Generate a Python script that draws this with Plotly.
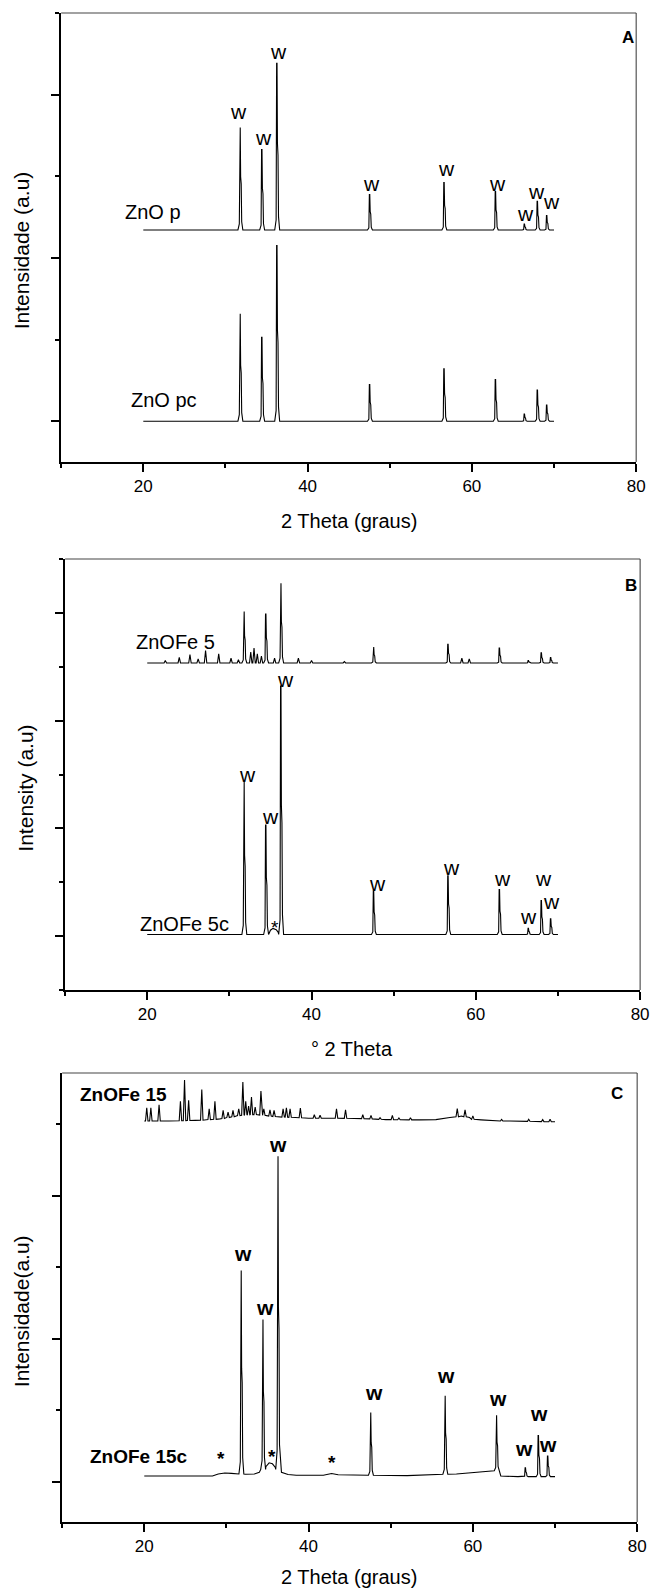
import plotly.graph_objects as go

FIG_W, FIG_H = 657, 1590
FONT = "Liberation Sans, Arial, Helvetica, sans-serif"

# ---------------- data ----------------
# 2-theta positions of the wurtzite (w) reflections
w_pos = [31.77, 34.42, 36.25, 47.54, 56.60, 62.86, 66.38, 67.96, 69.10]

# Panel A (intensity above each pattern's own baseline)
zno_p_top = [628, 493, 1021, 217, 291, 236, 36, 176, 89]
zno_pc_top = [658, 514, 1075, 224, 321, 255, 43, 191, 99]
zno_p_offset = 1171
zno_pc_offset = 0

# Panel B
znofe5_top = [478, 453, 739, 148, 173, 138, 22, 94, 50]
znofe5_minor_pos = [22.2, 23.9, 25.2, 26.2, 27.1, 28.7, 30.2, 31.1, 32.6, 33.0,
                    33.4, 33.9, 35.5, 38.4, 40.0, 44.0, 58.3, 59.2]
znofe5_minor_top = [22, 53, 79, 38, 116, 85, 44, 31, 101, 138,
                    85, 63, 44, 44, 22, 13, 44, 38]
znofe5_offset = 2535

znofe5c_top = [1415, 1016, 2306, 403, 544, 418, 57, 315, 145]
znofe5c_bg_x = [20.0, 34.8, 35.0, 35.3, 35.7, 35.95, 70.0]
znofe5c_bg_y = [0, 5, 40, 57, 45, 20, 0]
znofe5c_offset = 15

# Panel C
znofe15c_top = [1437, 1094, 2235, 443, 561, 424, 57, 282, 140]
znofe15c_base = [14, 45, 45, 5, 12, 36, -5, -5, -5]
znofe15c_bg_x = [20.0, 28.3, 29.0, 29.8, 30.6, 31.4, 32.3, 33.4, 34.0, 34.8, 35.2,
                 35.6, 35.95, 36.7, 37.5, 38.5, 41.8, 42.8, 43.6, 46.0, 52.0,
                 55.0, 58.0, 60.0, 61.8, 63.4, 65.5, 70.0]
znofe15c_bg_y = [0, 0, 14, 21, 18, 14, 12, 14, 25, 65, 92,
                 85, 60, 25, 10, 5, 5, 17, 8, 5, 2,
                 10, 14, 22, 30, 0, -5, -5]
znofe15c_offset = 42

znofe15_pos = [20.3, 20.8, 21.8, 24.4, 24.9, 25.4, 27.0, 27.9, 28.6, 29.6, 30.2,
               30.8, 31.5, 32.0, 32.35, 32.7, 33.05, 33.5, 34.2, 34.55, 35.3, 35.8,
               36.9, 37.3, 37.75, 39.0, 40.7, 41.4, 43.4, 44.5, 46.6, 47.6, 48.7,
               50.2, 51.0, 52.4, 58.1, 59.05, 60.0, 63.5, 66.8, 68.5, 69.4]
znofe15_top = [93, 93, 114, 138, 287, 145, 221, 86, 138, 75, 63,
               75, 86, 273, 138, 105, 168, 98, 210, 86, 79, 75,
               86, 93, 86, 91, 44, 40, 86, 79, 44, 40, 23,
               40, 21, 23, 88, 78, 36, 12, 12, 10, 12]
znofe15_base = [0, 0, 0, 2, 3, 4, 6, 10, 12, 18, 25,
                30, 38, 40, 42, 44, 45, 45, 42, 40, 35, 32,
                28, 27, 26, 23, 20, 20, 20, 19, 17, 15, 12,
                10, 9, 8, 30, 30, 12, 0, -2, -4, -5]
znofe15_bg_x = [20.0, 23.0, 26.2, 29.2, 31.2, 33.8, 34.9, 36.4, 38.4, 40.0, 42.2,
                45.5, 49.4, 53.5, 55.5, 57.2, 58.6, 59.6, 61.0, 64.5, 70.0]
znofe15_bg_y = [0, 0, 5, 15, 35, 45, 38, 30, 25, 20, 20,
                18, 10, 8, 10, 25, 35, 25, 8, 0, -5]
znofe15_offset = 2524

# label positions (2-theta of each "w" and pixel gap above the peak)
w_lab_A = [31.6, 34.6, 36.4, 47.8, 56.9, 63.1, 66.5, 67.85, 69.7]
w_gap_A = [14, 10, 10, 9, 12, 6, 9, 8, 12]
w_lab_B = [32.25, 34.98, 36.8, 48.0, 57.07, 63.27, 66.4, 68.3, 69.27]
w_gap_B = [6, 7, 5, 6, 6, 9, 10, 20, 15]
w_lab_C = [32.04, 34.7, 36.3, 47.95, 56.7, 63.06, 66.18, 68.05, 69.1]
w_gap_C = [15, 10, 10, 18, 18, 15, 17, 20, 9]

# ---------------- profile builders ----------------
# crystalline reflection: sharp Ka1 line with a Ka2 shoulder on the high-angle side
SHARP_DX = [-0.25, -0.08, -0.02, 0.03, 0.08, 0.15, 0.21, 0.35]
SHARP_FR = [0.0, 0.06, 1.0, 1.0, 0.52, 0.45, 0.08, 0.0]
TRI_HW = 0.15


def pattern(offset, sharp_pos=(), sharp_top=(), sharp_base=None,
            tri_pos=(), tri_top=(), tri_base=None, bg_x=(20.0, 70.0), bg_y=(0, 0)):
    pts = list(zip(bg_x, bg_y))
    if sharp_base is None:
        sharp_base = [0] * len(sharp_pos)
    if tri_base is None:
        tri_base = [0] * len(tri_pos)
    for p, t, b in zip(sharp_pos, sharp_top, sharp_base):
        for dx, fr in zip(SHARP_DX, SHARP_FR):
            pts.append((p + dx, b + fr * (t - b)))
    for p, t, b in zip(tri_pos, tri_top, tri_base):
        pts += [(p - TRI_HW, b), (p, t), (p + TRI_HW, b)]
    pts.sort(key=lambda q: q[0])
    return [q[0] for q in pts], [q[1] + offset for q in pts]


# ---------------- layout geometry (pixel boxes of the three frames) ----------------
boxes = {  # left, right, top, bottom
    "A": (62, 645, 13, 462),
    "B": (66, 649, 559, 990),
    "C": (63, 646, 1073, 1522),
}
yranges = {"A": [-250, 2500], "B": [-500, 3500], "C": [-280, 2860]}


def px(x):
    return x / FIG_W


def py(y):
    return 1 - y / FIG_H


fig = go.Figure()

traces = {
    "A": [
        pattern(zno_p_offset, w_pos, zno_p_top),
        pattern(zno_pc_offset, w_pos, zno_pc_top),
    ],
    "B": [
        pattern(znofe5_offset, w_pos, znofe5_top, tri_pos=znofe5_minor_pos,
                tri_top=znofe5_minor_top),
        pattern(znofe5c_offset, w_pos, znofe5c_top, bg_x=znofe5c_bg_x, bg_y=znofe5c_bg_y),
    ],
    "C": [
        pattern(znofe15_offset, tri_pos=znofe15_pos, tri_top=znofe15_top,
                tri_base=znofe15_base, bg_x=znofe15_bg_x, bg_y=znofe15_bg_y),
        pattern(znofe15c_offset, w_pos, znofe15c_top, znofe15c_base,
                bg_x=znofe15c_bg_x, bg_y=znofe15c_bg_y),
    ],
}

axis_ids = {"A": ("x", "y", ""), "B": ("x2", "y2", "2"), "C": ("x3", "y3", "3")}

for key, trs in traces.items():
    xa, ya, suf = axis_ids[key]
    for xs, ys in trs:
        fig.add_trace(go.Scatter(x=xs, y=ys, mode="lines", xaxis=xa, yaxis=ya,
                                 line=dict(color="black", width=1.1),
                                 hoverinfo="skip", showlegend=False))
    l, r, t, b = boxes[key]
    fig.layout["xaxis" + suf] = dict(
        domain=[px(l), px(r)], anchor=ya, range=[10, 80], tick0=0, dtick=20,
        ticks="outside", ticklen=8, tickwidth=1.5, tickcolor="black",
        minor=dict(dtick=10, tick0=0, ticks="outside", ticklen=4, tickwidth=1.5,
                   tickcolor="black"),
        showline=True, linewidth=2, linecolor="black", showgrid=False, zeroline=False,
        tickfont=dict(family=FONT, size=17, color="black"),
    )
    fig.layout["yaxis" + suf] = dict(
        domain=[py(b), py(t)], anchor=xa, range=yranges[key], tick0=0, dtick=1000,
        ticks="outside", ticklen=8, tickwidth=1.5, tickcolor="black",
        minor=dict(dtick=500, tick0=0, ticks="outside", ticklen=4, tickwidth=1.5,
                   tickcolor="black"),
        showticklabels=False, showline=True, linewidth=2, linecolor="black",
        showgrid=False, zeroline=False,
    )
    # top and right frame edges
    fig.add_shape(type="line", xref=xa + " domain", yref=ya + " domain",
                  x0=0, x1=1, y0=1, y1=1, line=dict(color="#444", width=1.2))
    fig.add_shape(type="line", xref=xa + " domain", yref=ya + " domain",
                  x0=1, x1=1, y0=0, y1=1, line=dict(color="#333", width=1))

ann = []


def text(s, x, y, size=20, bold=False, xanchor="center", angle=0):
    ann.append(dict(text=f"<b>{s}</b>" if bold else s, x=px(x), y=py(y), xref="paper",
                    yref="paper", xanchor=xanchor, yanchor="middle", showarrow=False,
                    textangle=angle, font=dict(family=FONT, size=size, color="black")))


# axis titles
text("2 Theta (graus)", 354, 521)
text("Intensidade (a.u)", 22, 250.6, size=21, angle=-90)
text("° 2 Theta", 356.5, 1049)
text("Intensity (a.u)", 25.5, 788.5, size=21, angle=-90)
text("2 Theta (graus)", 354, 1577)
text("Intensidade(a.u)", 22, 1311.5, size=21, angle=-90)

# pattern names
text("ZnO p", 125, 211.6, xanchor="left")
text("ZnO pc", 130.5, 400, xanchor="left")
text("ZnOFe 5", 135.5, 642, xanchor="left")
text("ZnOFe 5c", 139.8, 923.7, xanchor="left")
text("ZnOFe 15", 79, 1094, size=19, bold=True, xanchor="left")
text("ZnOFe 15c", 89, 1456.6, size=19, bold=True, xanchor="left")

# panel letters
text("A", 645, 38, size=17, bold=True, xanchor="right")
text("B", 648, 585, size=17, bold=True, xanchor="right")
text("C", 634, 1093.5, size=17, bold=True, xanchor="right")


def w_labels(xa, ya, lab_x, gaps, tops, offset, bold):
    for lx, g, t in zip(lab_x, gaps, tops):
        ann.append(dict(text="<b>w</b>" if bold else "w", x=lx, y=t + offset,
                        xref=xa, yref=ya, xanchor="center", yanchor="middle",
                        yshift=g + 2, showarrow=False, borderpad=0,
                        font=dict(family=FONT, size=21, color="black")))


w_labels("x", "y", w_lab_A, w_gap_A, zno_p_top, zno_p_offset, False)
w_labels("x2", "y2", w_lab_B, w_gap_B, znofe5c_top, znofe5c_offset, False)
w_labels("x3", "y3", w_lab_C, w_gap_C, znofe15c_top, znofe15c_offset, True)

# secondary-phase markers
star_B = ([35.5], [84])
star_C = ([29.4, 35.5, 42.9], [161, 175, 133])
for sx, sy in zip(*star_B):
    ann.append(dict(text="*", x=sx, y=sy, xref="x2", yref="y2", showarrow=False,
                    yanchor="middle", font=dict(family=FONT, size=19, color="black")))
for sx, sy in zip(*star_C):
    ann.append(dict(text="<b>*</b>", x=sx, y=sy, xref="x3", yref="y3", showarrow=False,
                    yanchor="middle", font=dict(family=FONT, size=19, color="black")))

fig.update_layout(
    width=FIG_W, height=FIG_H, margin=dict(l=0, r=0, t=0, b=0),
    paper_bgcolor="white", plot_bgcolor="white", annotations=ann,
    font=dict(family=FONT, color="black"),
)

fig.write_html("out.html")
